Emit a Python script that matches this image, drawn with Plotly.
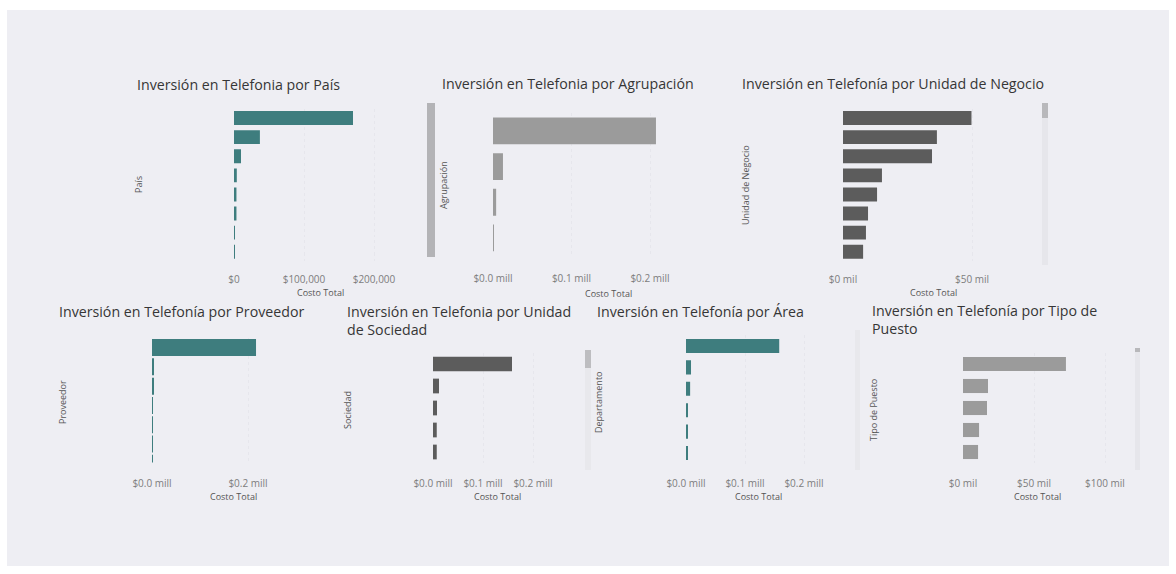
import plotly.graph_objects as go

W, H = 1176, 574

# ---------------- data ----------------
pais_cats = ["País 1", "País 2", "País 3", "País 4", "País 5", "País 6", "País 7", "País 8"]
pais_vals = [170000, 37000, 10000, 4000, 3500, 3500, 1200, 800]

agrup_cats = ["Agrupación 1", "Agrupación 2", "Agrupación 3", "Agrupación 4"]
agrup_vals = [207600, 12700, 4000, 1200]

negocio_cats = ["UN 1", "UN 2", "UN 3", "UN 4", "UN 5", "UN 6", "UN 7", "UN 8"]
negocio_vals = [49800, 36400, 34500, 15100, 13200, 9700, 8900, 7800]

prov_cats = ["Proveedor 1", "Proveedor 2", "Proveedor 3", "Proveedor 4", "Proveedor 5", "Proveedor 6", "Proveedor 7"]
prov_vals = [216700, 3500, 2500, 2000, 2000, 1500, 1500]

soc_cats = ["Sociedad 1", "Sociedad 2", "Sociedad 3", "Sociedad 4", "Sociedad 5"]
soc_vals = [158000, 12000, 8000, 7500, 7500]

area_cats = ["Depto 1", "Depto 2", "Depto 3", "Depto 4", "Depto 5", "Depto 6"]
area_vals = [158000, 8500, 7000, 3000, 3000, 3000]

puesto_cats = ["Puesto 1", "Puesto 2", "Puesto 3", "Puesto 4", "Puesto 5"]
puesto_vals = [72500, 17600, 16900, 11300, 10600]

TEAL = "#3e7d7e"
DARK = "#5c5c5c"
LIGHT = "#9b9b9b"

def fx(px):
    return px / W

def fy(py):
    return 1 - py / H

panels = [
    dict(title="Inversión en Telefonia por País", tx=135, ty=84,
         cats=pais_cats, vals=pais_vals, color=TEAL, width=0.73,
         x0=234, xmax=210000, ppu=70 / 100000, top=108.5, step=19.1, rend=None,
         tickvals=[0, 100000, 200000], ticktext=["$0", "$100,000", "$200,000"],
         ytitle="País", ytx=138, yty=185, xtx=320, xty=292, tick_y=278),
    dict(title="Inversión en Telefonia por Agrupación", tx=440, ty=83,
         cats=agrup_cats, vals=agrup_vals, color=LIGHT, width=0.75,
         x0=493, xmax=220000, ppu=78.5 / 100000, top=113, step=35.7, rend=None,
         tickvals=[0, 100000, 200000], ticktext=["$0.0 mill", "$0.1 mill", "$0.2 mill"],
         ytitle="Agrupación", ytx=443, yty=185, xtx=608, xty=293, tick_y=277),
    dict(title="Inversión en Telefonía por Unidad de Negocio", tx=740, ty=83,
         cats=negocio_cats, vals=negocio_vals, color=DARK, width=0.73,
         x0=843, xmax=55000, ppu=129 / 50000, top=108.5, step=19.1, rend=None,
         tickvals=[0, 50000], ticktext=["$0 mil", "$50 mil"],
         ytitle="Unidad de Negocio", ytx=745, yty=185, xtx=933, xty=292, tick_y=278),
    dict(title="Inversión en Telefonía por Proveedor", tx=57, ty=311,
         cats=prov_cats, vals=prov_vals, color=TEAL, width=0.88,
         x0=152, xmax=250000, ppu=96 / 200000, top=337.9, step=19.3, rend=5.95,
         tickvals=[0, 200000], ticktext=["$0.0 mill", "$0.2 mill"],
         ytitle="Proveedor", ytx=62, yty=402, xtx=233, xty=496, tick_y=482),
    dict(title="Inversión en Telefonia por Unidad<br>de Sociedad", tx=345, ty=320,
         cats=soc_cats, vals=soc_vals, color=DARK, width=0.67,
         x0=433, xmax=220000, ppu=50 / 100000, top=353, step=22, rend=None,
         tickvals=[0, 100000, 200000], ticktext=["$0.0 mill", "$0.1 mill", "$0.2 mill"],
         ytitle="Sociedad", ytx=347, yty=410, xtx=497, xty=496, tick_y=482),
    dict(title="Inversión en Telefonía por Área", tx=595, ty=311,
         cats=area_cats, vals=area_vals, color=TEAL, width=0.66,
         x0=686, xmax=210000, ppu=59 / 100000, top=335.3, step=21.4, rend=None,
         tickvals=[0, 100000, 200000], ticktext=["$0.0 mill", "$0.1 mill", "$0.2 mill"],
         ytitle="Departamento", ytx=598, yty=402, xtx=758, xty=496, tick_y=482),
    dict(title="Inversión en Telefonía por Tipo de<br>Puesto", tx=870, ty=319,
         cats=puesto_cats, vals=puesto_vals, color=LIGHT, width=0.64,
         x0=963, xmax=105000, ppu=71 / 50000, top=353, step=22, rend=None,
         tickvals=[0, 50000, 100000], ticktext=["$0 mil", "$50 mil", "$100 mil"],
         ytitle="Tipo de Puesto", ytx=873, yty=410, xtx=1037, xty=496, tick_y=482),
]

FONT = "Open Sans"
fig = go.Figure()
layout = dict(
    template="none",
    width=W, height=H, margin=dict(l=0, r=0, t=0, b=0, autoexpand=False),
    paper_bgcolor="#ffffff", plot_bgcolor="rgba(0,0,0,0)",
    showlegend=False, font=dict(family=FONT),
    annotations=[], shapes=[],
)

# background panel
layout["shapes"].append(dict(type="rect", xref="paper", yref="paper", layer="below",
                             x0=fx(7), x1=fx(1169), y0=fy(566), y1=fy(10),
                             fillcolor="#eeeef3", line=dict(width=0)))

for i, p in enumerate(panels, start=1):
    n = len(p["cats"])
    rend = p["rend"] if p["rend"] is not None else n - 0.5
    height_px = (rend + 0.5) * p["step"]
    bottom = p["top"] + height_px
    x1 = p["x0"] + p["xmax"] * p["ppu"]
    xa = "xaxis" if i == 1 else f"xaxis{i}"
    ya = "yaxis" if i == 1 else f"yaxis{i}"
    xr = "x" if i == 1 else f"x{i}"
    yr = "y" if i == 1 else f"y{i}"
    fig.add_trace(go.Bar(x=p["vals"], y=p["cats"], orientation="h",
                         marker=dict(color=p["color"], line=dict(width=0)),
                         width=p["width"], xaxis=xr, yaxis=yr, hoverinfo="x+y"))
    ticklen = p["tick_y"] - bottom - 8.5
    layout[xa] = dict(domain=[fx(p["x0"]), fx(x1)], anchor=yr, range=[0, p["xmax"]],
                      tickmode="array", tickvals=p["tickvals"], ticktext=p["ticktext"],
                      ticks="outside", ticklen=max(ticklen, 0), tickcolor="rgba(0,0,0,0)",
                      tickfont=dict(size=10, color="#7d7d7d", family=FONT),
                      showgrid=True, gridcolor="#e6e6ec", griddash="dot", gridwidth=1,
                      zeroline=False, showline=False, fixedrange=True, automargin=False)
    layout[ya] = dict(domain=[fy(bottom), fy(p["top"])], anchor=xr,
                      type="category", categoryorder="array", categoryarray=p["cats"],
                      range=[rend, -0.5], showticklabels=False, showgrid=False,
                      zeroline=False, showline=False, ticks="", fixedrange=True, automargin=False)
    # titles
    layout["annotations"].append(dict(text=p["title"], x=fx(p["tx"]), y=fy(p["ty"]),
                                      xref="paper", yref="paper", xanchor="left", yanchor="middle",
                                      align="left", showarrow=False,
                                      font=dict(size=14.2, color="#363636", family=FONT)))
    layout["annotations"].append(dict(text="Costo Total", x=fx(p["xtx"]), y=fy(p["xty"]),
                                      xref="paper", yref="paper", xanchor="center", yanchor="middle",
                                      showarrow=False, font=dict(size=9, color="#555555", family=FONT)))
    layout["annotations"].append(dict(text=p["ytitle"], x=fx(p["ytx"]), y=fy(p["yty"]),
                                      xref="paper", yref="paper", xanchor="center", yanchor="middle",
                                      textangle=-90, showarrow=False,
                                      font=dict(size=9, color="#555555", family=FONT)))

# scrollbar-like decorations (Power BI visuals)
def pill(x0, x1, y0, y1, color):
    layout["shapes"].append(dict(type="rect", xref="paper", yref="paper", layer="below",
                                 x0=fx(x0), x1=fx(x1), y0=fy(y1), y1=fy(y0),
                                 fillcolor=color, line=dict(width=0)))

pill(427, 435, 103, 257, "#b3b3b6")      # Agrupación scrollbar
pill(1042, 1048, 103, 265, "#e6e6eb")    # Unidad de Negocio track
pill(1042, 1048, 103, 118, "#b8b8bb")    # thumb
pill(585, 591, 350, 470, "#e8e8ec")      # Área track
pill(585, 591, 350, 368, "#bdbdc0")      # thumb
pill(1135, 1140, 348, 470, "#e6e6eb")    # Tipo de Puesto track
pill(1135, 1140, 348, 352, "#b8b8bb")
pill(855, 860, 330, 470, "#e8e8ec")

fig.update_layout(**layout)
fig.write_html("out.html")
